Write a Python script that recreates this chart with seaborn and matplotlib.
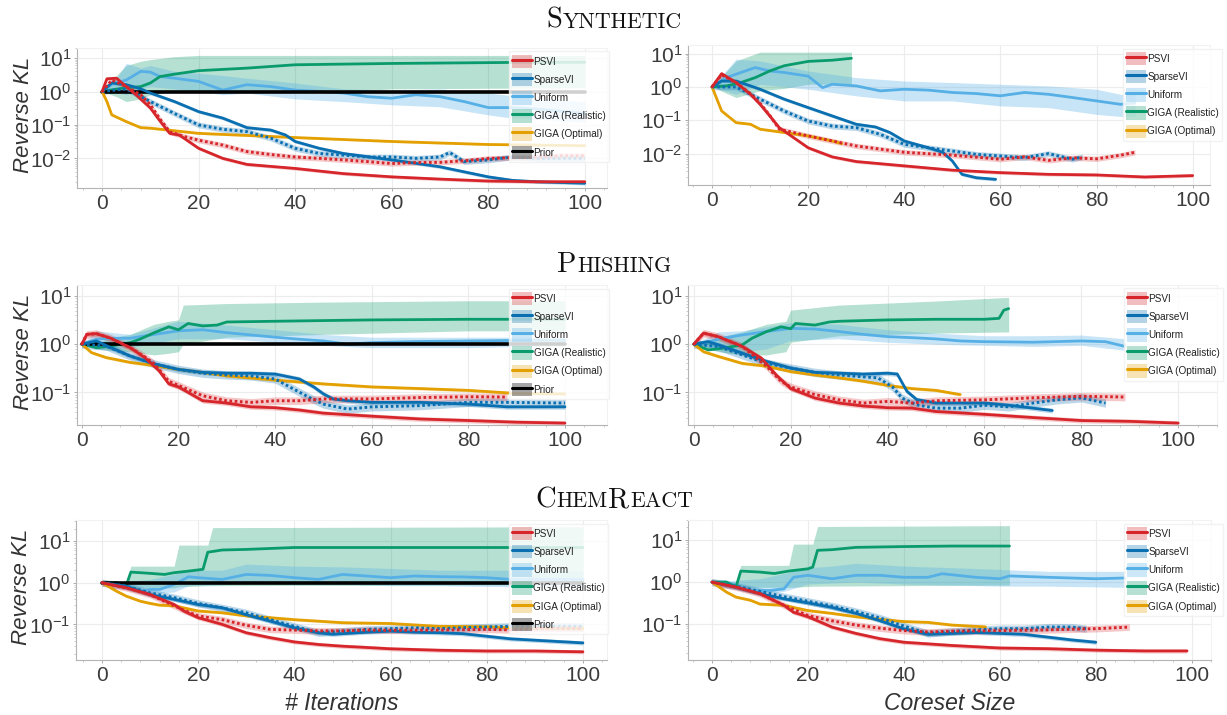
import numpy as np
import matplotlib
matplotlib.use("Agg")
import matplotlib.pyplot as plt
import seaborn as sns
from matplotlib.patches import Patch
from matplotlib.lines import Line2D
from matplotlib.ticker import LogLocator, AutoMinorLocator, NullFormatter, FixedLocator

# ======================= DATA =======================
METHODS = ["PSVI", "SparseVI", "Uniform", "GIGA (Realistic)", "GIGA (Optimal)", "Prior"]
ROW_TITLES = [("S", "YNTHETIC"), ("P", "HISHING"), ("C", "HEM", "R", "EACT")]
XLABELS = ["# Iterations", "Coreset Size"]
YLABEL = "Reverse KL"
X_TICKS = [0, 20, 40, 60, 80, 100]

# ---- Synthetic / iterations ----
SYN_IT_PSVI_X = [0, 1, 3, 5, 7, 10, 12, 14, 16, 20, 25, 30, 40, 50, 60, 70, 80, 90, 100]
SYN_IT_PSVI_Y = [1, 2.4, 2.5, 1.4, 0.8, 0.32, 0.13, 0.056, 0.05, 0.02, 0.01, 0.0066, 0.005, 0.0035, 0.0028, 0.0024, 0.0021, 0.002, 0.002]
SYN_IT_PSVID_X = [0, 2, 5, 8, 10, 12, 14, 17, 20, 25, 30, 35, 40, 45, 50, 55, 60, 65, 70, 75, 80, 85, 90, 95, 100]
SYN_IT_PSVID_Y = [1, 2.2, 1.4, 0.8, 0.4, 0.15, 0.063, 0.045, 0.035, 0.025, 0.016, 0.013, 0.011, 0.01, 0.009, 0.008, 0.007, 0.0075, 0.0076, 0.0085, 0.01, 0.0105, 0.011, 0.012, 0.012]
SYN_IT_SVI_X = [0, 2, 5, 8, 10, 15, 20, 25, 30, 35, 38, 40, 45, 50, 60, 70, 80, 85, 90, 100]
SYN_IT_SVI_Y = [1, 1.8, 1.6, 1.2, 0.9, 0.5, 0.25, 0.16, 0.083, 0.07, 0.05, 0.032, 0.02, 0.014, 0.009, 0.0056, 0.0028, 0.0022, 0.002, 0.0018]
SYN_IT_SVID_X = [0, 5, 10, 15, 20, 25, 30, 35, 40, 45, 50, 55, 60, 65, 70, 72, 75, 80, 85, 90, 100]
SYN_IT_SVID_Y = [1, 1.2, 0.5, 0.22, 0.1, 0.074, 0.063, 0.04, 0.02, 0.014, 0.0125, 0.011, 0.011, 0.01, 0.011, 0.015, 0.008, 0.009, 0.011, 0.01, 0.01]
SYN_IT_UNI_X = [0, 2, 5, 8, 10, 12, 15, 20, 25, 30, 35, 40, 45, 50, 55, 60, 65, 70, 75, 80, 85, 90, 100]
SYN_IT_UNI_Y = [1, 1.66, 2.2, 4, 3.8, 2.8, 2.5, 2, 1.1, 1.6, 1.4, 1.1, 1.0, 0.9, 0.7, 0.63, 0.8, 0.7, 0.5, 0.33, 0.33, 0.3, 0.22]
SYN_IT_UNIB_X = [0, 3, 5, 8, 10, 15, 20, 25, 30, 40, 50, 60, 70, 80, 85, 90, 100]
SYN_IT_UNIB_HI = [1, 2.5, 7, 5, 6, 4, 3.5, 3, 2.5, 1.8, 1.2, 1.1, 1.2, 0.9, 0.75, 0.6, 0.5]
SYN_IT_UNIB_LO = [1, 1.0, 0.8, 1.2, 1.4, 1.2, 1.0, 0.8, 0.9, 0.6, 0.5, 0.4, 0.35, 0.2, 0.16, 0.15, 0.12]
SYN_IT_GR_X = [0, 5, 8, 10, 12, 15, 20, 30, 40, 60, 85, 100]
SYN_IT_GR_Y = [1, 1.3, 1.4, 1.8, 2.8, 3.3, 4.2, 5, 6.3, 6.9, 7.4, 7.5]
SYN_IT_GRB_X = [0, 3, 5, 8, 10, 15, 20, 50, 60, 100]
SYN_IT_GRB_HI = [1, 3, 6, 8, 9, 11, 12, 12, 12, 12]
SYN_IT_GRB_LO = [1, 0.7, 0.5, 0.6, 0.8, 1.0, 1.0, 1.0, 1.2, 1.3]
SYN_IT_GO_X = [0, 1, 2, 5, 8, 10, 20, 40, 60, 80, 100]
SYN_IT_GO_Y = [1, 0.5, 0.2, 0.126, 0.083, 0.08, 0.056, 0.042, 0.032, 0.026, 0.024]

# ---- Synthetic / coreset size ----
SYN_CS_PSVI_X = [0, 2, 5, 8, 10, 12, 14, 17, 20, 25, 30, 40, 50, 60, 70, 80, 90, 100]
SYN_CS_PSVI_Y = [1, 2.5, 1.35, 0.6, 0.3, 0.135, 0.06, 0.03, 0.015, 0.008, 0.0058, 0.0043, 0.0032, 0.0027, 0.0024, 0.0023, 0.002, 0.0022]
SYN_CS_PSVID_X = [0, 2, 5, 8, 10, 12, 14, 20, 25, 30, 40, 50, 60, 65, 70, 75, 80, 85, 88]
SYN_CS_PSVID_Y = [1, 2.3, 1.35, 0.62, 0.32, 0.14, 0.054, 0.034, 0.024, 0.017, 0.011, 0.009, 0.0068, 0.008, 0.0063, 0.0075, 0.007, 0.009, 0.011]
SYN_CS_SVI_X = [0, 2, 5, 8, 10, 15, 20, 25, 30, 34, 37, 40, 45, 48, 50, 52, 55, 59]
SYN_CS_SVI_Y = [1, 1.5, 1.5, 1.07, 0.85, 0.43, 0.24, 0.135, 0.076, 0.063, 0.043, 0.024, 0.015, 0.011, 0.006, 0.0024, 0.0019, 0.0017]
SYN_CS_SVID_X = [0, 5, 10, 15, 20, 25, 30, 35, 40, 45, 50, 55, 60, 65, 70, 75, 77]
SYN_CS_SVID_Y = [1, 1.0, 0.43, 0.19, 0.095, 0.067, 0.06, 0.038, 0.019, 0.015, 0.012, 0.0095, 0.0085, 0.0076, 0.01, 0.0068, 0.008]
SYN_CS_UNI_X = [0, 3, 6, 9, 12, 15, 20, 23, 25, 30, 35, 40, 45, 50, 55, 60, 65, 70, 75, 80, 85, 88]
SYN_CS_UNI_Y = [1, 1.9, 2.7, 3.8, 3, 2.7, 2.1, 0.95, 1.2, 1.07, 0.76, 0.85, 0.8, 0.68, 0.63, 0.54, 0.68, 0.6, 0.48, 0.38, 0.3, 0.33]
SYN_CS_UNIB_X = [0, 5, 10, 20, 30, 40, 50, 60, 70, 80, 85, 88]
SYN_CS_UNIB_HI = [1, 6.8, 6, 3, 1.9, 1.5, 1.35, 1.2, 1.07, 0.85, 0.6, 0.6]
SYN_CS_UNIB_LO = [1, 0.6, 1.2, 0.85, 0.54, 0.38, 0.38, 0.27, 0.24, 0.15, 0.13, 0.13]
SYN_CS_GR_X = [0, 3, 6, 9, 12, 15, 20, 25, 29]
SYN_CS_GR_Y = [1, 1.07, 1.35, 1.9, 3, 4.3, 5.8, 6.3, 7.2]
SYN_CS_GRB_X = [0, 5, 10, 15, 20, 29]
SYN_CS_GRB_HI = [1, 6, 11, 11, 11, 11]
SYN_CS_GRB_LO = [1, 0.48, 0.76, 0.9, 1.2, 1.2]
SYN_CS_GO_X = [0, 2, 5, 8, 10, 15, 20, 25, 27]
SYN_CS_GO_Y = [1, 0.19, 0.085, 0.076, 0.054, 0.043, 0.034, 0.024, 0.02]

# ---- Phishing / iterations ----
PHI_IT_PSVI_X = [0, 1, 3, 6, 10, 13, 16, 18, 20, 25, 30, 35, 40, 45, 50, 60, 70, 80, 90, 100]
PHI_IT_PSVI_Y = [1, 1.6, 1.66, 1.33, 0.85, 0.53, 0.28, 0.15, 0.13, 0.067, 0.06, 0.05, 0.048, 0.043, 0.037, 0.032, 0.028, 0.026, 0.024, 0.023]
PHI_IT_PSVID_X = [0, 1, 3, 6, 10, 13, 15, 18, 20, 25, 30, 35, 40, 45, 50, 60, 70, 80, 88]
PHI_IT_PSVID_Y = [1, 1.6, 1.66, 1.33, 0.85, 0.55, 0.39, 0.17, 0.14, 0.085, 0.067, 0.062, 0.067, 0.067, 0.073, 0.073, 0.078, 0.081, 0.08]
PHI_IT_SVI_X = [0, 3, 6, 10, 15, 20, 25, 30, 35, 40, 45, 48, 50, 52, 55, 60, 70, 80, 88, 100]
PHI_IT_SVI_Y = [1, 1.17, 0.85, 0.57, 0.39, 0.3, 0.26, 0.25, 0.25, 0.24, 0.19, 0.13, 0.093, 0.073, 0.067, 0.062, 0.062, 0.057, 0.05, 0.05]
PHI_IT_SVID_X = [0, 5, 10, 15, 20, 25, 30, 35, 40, 43, 47, 50, 55, 60, 70, 80, 88, 100]
PHI_IT_SVID_Y = [1, 0.92, 0.57, 0.39, 0.3, 0.25, 0.23, 0.22, 0.19, 0.13, 0.079, 0.057, 0.045, 0.05, 0.053, 0.062, 0.062, 0.06]
PHI_IT_UNI_X = [0, 3, 6, 10, 15, 20, 25, 30, 35, 40, 45, 50, 55, 60, 70, 80, 90, 100]
PHI_IT_UNI_Y = [1, 1.27, 1.33, 1.33, 1.6, 1.9, 2.0, 1.74, 1.56, 1.4, 1.27, 1.17, 1.0, 1.08, 1.14, 1.17, 1.2, 1.2]
PHI_IT_UNIB_X = [0, 3, 10, 20, 30, 40, 50, 60, 80, 90, 100]
PHI_IT_UNIB_HI = [1, 1.9, 1.6, 3, 2.5, 2, 1.6, 1.4, 1.4, 1.4, 1.4]
PHI_IT_UNIB_LO = [1, 0.8, 0.85, 1.3, 1.3, 1.1, 0.95, 0.85, 0.85, 0.9, 0.9]
PHI_IT_GR_X = [0, 3, 6, 10, 12, 15, 18, 20, 22, 25, 28, 30, 40, 50, 60, 80, 100]
PHI_IT_GR_Y = [1, 0.85, 0.92, 1.08, 1.27, 1.74, 2.3, 2.0, 2.7, 2.4, 2.5, 2.9, 3.0, 3.1, 3.2, 3.3, 3.3]
PHI_IT_GRB_X = [0, 3, 5, 10, 15, 18, 20, 21, 30, 50, 80, 100]
PHI_IT_GRB_HI = [1, 1.0, 1.3, 1.6, 2.6, 3.0, 3.2, 6.5, 7, 7.5, 8, 8]
PHI_IT_GRB_LO = [1, 0.8, 0.75, 0.7, 0.6, 0.65, 0.7, 1.0, 1.4, 1.6, 1.9, 1.9]
PHI_IT_GO_X = [0, 2, 5, 10, 15, 20, 25, 30, 40, 50, 60, 70, 80, 90, 100]
PHI_IT_GO_Y = [1, 0.67, 0.53, 0.42, 0.36, 0.3, 0.26, 0.22, 0.18, 0.15, 0.13, 0.12, 0.11, 0.095, 0.093]

# ---- Phishing / coreset size ----
PHI_CS_PSVI_X = [0, 2, 5, 10, 14, 17, 20, 25, 30, 35, 40, 45, 50, 60, 70, 80, 90, 100]
PHI_CS_PSVI_Y = [1, 1.7, 1.44, 0.9, 0.51, 0.23, 0.12, 0.076, 0.06, 0.052, 0.048, 0.047, 0.04, 0.035, 0.03, 0.026, 0.025, 0.023]
PHI_CS_PSVID_X = [0, 2, 5, 10, 15, 18, 20, 25, 30, 35, 40, 45, 50, 60, 70, 80, 89]
PHI_CS_PSVID_Y = [1, 1.7, 1.44, 0.9, 0.35, 0.17, 0.13, 0.09, 0.07, 0.06, 0.065, 0.06, 0.067, 0.07, 0.077, 0.083, 0.08]
PHI_CS_SVI_X = [0, 3, 6, 10, 15, 20, 25, 30, 35, 40, 42, 44, 46, 50, 55, 60, 65, 70, 74]
PHI_CS_SVI_Y = [1, 1.13, 0.9, 0.65, 0.44, 0.32, 0.26, 0.25, 0.24, 0.25, 0.24, 0.105, 0.071, 0.06, 0.06, 0.06, 0.054, 0.047, 0.042]
PHI_CS_SVID_X = [0, 5, 10, 15, 20, 25, 30, 35, 38, 41, 43, 46, 50, 55, 60, 65, 70, 75, 80, 85]
PHI_CS_SVID_Y = [1, 0.9, 0.6, 0.4, 0.32, 0.26, 0.23, 0.21, 0.2, 0.13, 0.076, 0.055, 0.047, 0.047, 0.054, 0.05, 0.06, 0.07, 0.077, 0.06]
PHI_CS_UNI_X = [0, 3, 6, 10, 15, 20, 25, 30, 35, 40, 45, 50, 55, 60, 70, 80, 85, 89]
PHI_CS_UNI_Y = [1, 1.13, 1.33, 1.56, 1.83, 2.14, 2.07, 1.83, 1.6, 1.44, 1.37, 1.29, 1.17, 1.13, 1.1, 1.17, 1.13, 0.9]
PHI_CS_UNIB_X = [0, 5, 10, 15, 20, 30, 40, 50, 60, 70, 80, 89]
PHI_CS_UNIB_HI = [1, 1.8, 1.9, 2.3, 2.8, 2.6, 2.0, 1.7, 1.5, 1.5, 1.55, 1.3]
PHI_CS_UNIB_LO = [1, 0.8, 0.7, 0.8, 1.2, 1.3, 1.1, 1.0, 0.95, 0.9, 0.95, 0.75]
PHI_CS_GR_X = [0, 3, 6, 10, 12, 15, 18, 20, 21, 25, 28, 30, 40, 50, 60, 63, 64, 65]
PHI_CS_GR_Y = [1, 0.76, 0.83, 0.97, 1.33, 1.83, 2.3, 2.1, 2.7, 2.5, 2.9, 3.0, 3.2, 3.3, 3.3, 3.45, 5.1, 5.5]
PHI_CS_GRB_X = [0, 5, 10, 15, 19, 20, 30, 50, 64, 65]
PHI_CS_GRB_HI = [1, 1.4, 1.8, 2.6, 3.0, 5.1, 6.5, 7.9, 9.3, 9.3]
PHI_CS_GRB_LO = [1, 0.7, 0.6, 0.6, 0.7, 1.1, 1.5, 1.7, 1.8, 1.8]
PHI_CS_GO_X = [0, 2, 5, 10, 15, 20, 25, 30, 35, 40, 45, 50, 55]
PHI_CS_GO_Y = [1, 0.7, 0.56, 0.4, 0.35, 0.27, 0.23, 0.2, 0.17, 0.14, 0.12, 0.11, 0.09]

# ---- ChemReact / iterations ----
CHE_IT_PSVI_X = [0, 5, 10, 15, 17, 20, 25, 30, 35, 40, 45, 50, 55, 60, 70, 80, 90, 100]
CHE_IT_PSVI_Y = [1, 0.76, 0.52, 0.3, 0.21, 0.145, 0.1, 0.063, 0.048, 0.038, 0.033, 0.03, 0.028, 0.026, 0.024, 0.023, 0.023, 0.022]
CHE_IT_PSVID_X = [0, 5, 10, 15, 17, 20, 25, 30, 35, 40, 45, 50, 55, 60, 70, 80, 85, 90, 100]
CHE_IT_PSVID_Y = [1, 0.76, 0.52, 0.28, 0.22, 0.16, 0.13, 0.095, 0.076, 0.073, 0.07, 0.07, 0.073, 0.072, 0.073, 0.076, 0.074, 0.08, 0.08]
CHE_IT_SVI_X = [0, 5, 10, 15, 20, 25, 30, 35, 40, 45, 48, 50, 55, 60, 65, 70, 75, 80, 85, 100]
CHE_IT_SVI_Y = [1, 0.83, 0.52, 0.4, 0.3, 0.25, 0.17, 0.12, 0.083, 0.063, 0.058, 0.06, 0.065, 0.069, 0.065, 0.063, 0.06, 0.052, 0.045, 0.036]
CHE_IT_SVID_X = [0, 5, 10, 15, 20, 25, 30, 35, 40, 45, 50, 55, 60, 65, 70, 75, 80, 85, 100]
CHE_IT_SVID_Y = [1, 0.83, 0.57, 0.44, 0.32, 0.25, 0.19, 0.13, 0.09, 0.063, 0.069, 0.076, 0.079, 0.083, 0.079, 0.083, 0.087, 0.09, 0.09]
CHE_IT_UNI_X = [0, 3, 5, 8, 10, 12, 15, 18, 20, 25, 30, 35, 40, 45, 50, 55, 60, 65, 70, 75, 80, 85, 100]
CHE_IT_UNI_Y = [1, 1, 0.86, 0.63, 0.69, 0.69, 0.91, 1.39, 1.32, 1.2, 1.58, 1.5, 1.32, 1.2, 1.58, 1.45, 1.32, 1.45, 1.4, 1.38, 1.32, 1.2, 1.2]
CHE_IT_UNIB_X = [0, 5, 10, 15, 18, 25, 30, 40, 50, 60, 70, 85, 100]
CHE_IT_UNIB_HI = [1, 1.1, 1.2, 1.6, 2.0, 2.0, 2.8, 2.5, 2.4, 2.2, 2.0, 2.0, 1.9]
CHE_IT_UNIB_LO = [1, 0.7, 0.55, 0.6, 0.85, 0.9, 1.0, 0.9, 0.9, 0.85, 0.85, 0.8, 0.8]
CHE_IT_GR_X = [0, 3, 5, 6, 10, 13, 15, 18, 21, 22, 25, 30, 40, 60, 85, 100]
CHE_IT_GR_Y = [1, 1, 0.83, 1.8, 1.68, 1.58, 1.74, 1.9, 2.1, 5.4, 6.1, 6.3, 7.0, 7.0, 7.0, 7.0]
CHE_IT_GRB_X = [0, 5, 6, 15, 16, 22, 23, 100]
CHE_IT_GRB_HI = [1, 1.0, 2.5, 2.5, 8, 8, 21, 22]
CHE_IT_GRB_LO = [1, 0.8, 0.75, 0.75, 0.8, 0.85, 0.85, 0.9]
CHE_IT_GO_X = [0, 3, 5, 8, 10, 12, 15, 20, 25, 30, 35, 40, 50, 60, 70, 80, 85, 100]
CHE_IT_GO_Y = [1, 0.63, 0.48, 0.36, 0.32, 0.29, 0.28, 0.21, 0.19, 0.16, 0.145, 0.13, 0.11, 0.105, 0.09, 0.088, 0.083, 0.08]

# ---- ChemReact / coreset size ----
CHE_CS_PSVI_X = [0, 5, 10, 15, 17, 20, 25, 30, 35, 40, 50, 60, 70, 80, 90, 99]
CHE_CS_PSVI_Y = [1, 0.76, 0.53, 0.28, 0.19, 0.15, 0.085, 0.06, 0.045, 0.037, 0.031, 0.027, 0.026, 0.024, 0.023, 0.023]
CHE_CS_PSVID_X = [0, 5, 10, 15, 20, 25, 30, 35, 40, 45, 50, 60, 70, 80, 87]
CHE_CS_PSVID_Y = [1, 0.76, 0.53, 0.28, 0.16, 0.12, 0.095, 0.08, 0.07, 0.065, 0.068, 0.07, 0.073, 0.078, 0.085]
CHE_CS_SVI_X = [0, 5, 10, 15, 20, 25, 30, 35, 40, 45, 50, 55, 60, 65, 70, 75, 80]
CHE_CS_SVI_Y = [1, 0.76, 0.53, 0.4, 0.32, 0.25, 0.18, 0.12, 0.077, 0.057, 0.06, 0.063, 0.06, 0.057, 0.049, 0.042, 0.037]
CHE_CS_SVID_X = [0, 5, 10, 15, 20, 25, 30, 35, 40, 45, 50, 55, 60, 65, 70, 75, 78]
CHE_CS_SVID_Y = [1, 0.8, 0.6, 0.45, 0.35, 0.27, 0.2, 0.14, 0.09, 0.06, 0.067, 0.073, 0.078, 0.078, 0.085, 0.085, 0.078]
CHE_CS_UNI_X = [0, 3, 5, 8, 12, 15, 17, 20, 25, 30, 35, 40, 45, 48, 55, 60, 62, 70, 80, 86]
CHE_CS_UNI_Y = [1, 1, 0.83, 0.63, 0.63, 0.69, 1.3, 1.45, 1.2, 1.45, 1.45, 1.3, 1.3, 1.58, 1.3, 1.2, 1.4, 1.3, 1.2, 1.25]
CHE_CS_UNIB_X = [0, 5, 10, 15, 20, 25, 30, 40, 50, 60, 70, 86]
CHE_CS_UNIB_HI = [1, 1.1, 1.2, 1.6, 2.2, 2.4, 2.8, 2.4, 2.2, 2.0, 1.8, 1.8]
CHE_CS_UNIB_LO = [1, 0.7, 0.55, 0.6, 0.9, 0.95, 1.0, 0.9, 0.85, 0.8, 0.8, 0.75]
CHE_CS_GR_X = [0, 3, 5, 6, 10, 13, 16, 20, 21, 22, 25, 30, 40, 50, 62]
CHE_CS_GR_Y = [1, 1, 0.76, 1.83, 1.73, 1.6, 1.83, 2.07, 2.27, 5.7, 5.9, 6.7, 7.0, 7.2, 7.2]
CHE_CS_GRB_X = [0, 5, 6, 16, 17, 21, 22, 62]
CHE_CS_GRB_HI = [1, 1.0, 2.5, 2.5, 8, 8, 21, 22]
CHE_CS_GRB_LO = [1, 0.8, 0.75, 0.75, 0.75, 0.8, 0.8, 0.85]
CHE_CS_GO_X = [0, 3, 5, 8, 10, 15, 20, 25, 30, 35, 40, 45, 50, 57]
CHE_CS_GO_Y = [1, 0.58, 0.44, 0.37, 0.3, 0.28, 0.21, 0.18, 0.15, 0.13, 0.115, 0.11, 0.095, 0.086]

PRIOR_X = [0, 100]
PRIOR_Y = [1, 1]

# ======================= STYLE =======================
C_PSVI = "#d7262b"
C_SVI = "#0a6fb0"
C_UNI = "#56b0e6"
C_GR = "#0a9b6c"
C_GO = "#e3a000"
C_PRIOR = "#000000"
TICK_COLOR = "#3c3c3c"
BAND_F = {"psvi": 1.12, "psvid": 1.2, "svi": 1.12, "svid": 1.22, "go": 1.07}

sns.set_theme(style="whitegrid")
plt.rcParams["font.family"] = ["Liberation Sans", "DejaVu Sans"]
plt.rcParams["mathtext.fontset"] = "custom"
plt.rcParams["mathtext.rm"] = "Liberation Sans"
plt.rcParams["mathtext.it"] = "Liberation Sans:italic"
plt.rcParams["mathtext.bf"] = "Liberation Sans:bold"

W, H = 1227, 715
fig = plt.figure(figsize=(W / 100, H / 100), dpi=100)
fig.patch.set_facecolor("white")


def px_axes(l, t, r, b):
    return fig.add_axes([l / W, 1 - b / H, (r - l) / W, (b - t) / H])


def band(ax, x, lo, hi, color, alpha, z=1):
    ax.fill_between(np.asarray(x, float), np.asarray(lo, float), np.asarray(hi, float),
                    color=color, alpha=alpha, linewidth=0, zorder=z)


def line(ax, x, y, color, ls="-", lw=2.0, z=3):
    sns.lineplot(x=np.asarray(x, float), y=np.asarray(y, float), ax=ax, color=color,
                 linewidth=lw, linestyle=ls, zorder=z, legend=False, errorbar=None)


DOT = (0, (0.9, 0.9))


def panel(ax, d, prior, xlim, ylim, leg_x):
    ax.set_yscale("log")
    band(ax, d["grb_x"], d["grb_lo"], d["grb_hi"], C_GR, 0.30, 1)
    band(ax, d["unib_x"], d["unib_lo"], d["unib_hi"], C_UNI, 0.33, 1.2)
    for key, col, a in (("go", C_GO, 0.3), ("svid", C_SVI, 0.28), ("svi", C_SVI, 0.28),
                        ("psvid", C_PSVI, 0.25), ("psvi", C_PSVI, 0.25)):
        y = np.asarray(d[key + "_y"], float)
        band(ax, d[key + "_x"], y / BAND_F[key], y * BAND_F[key], col, a, 1.5)
    line(ax, d["uni_x"], d["uni_y"], C_UNI, z=3)
    line(ax, d["gr_x"], d["gr_y"], C_GR, z=3.1)
    if prior:
        line(ax, PRIOR_X, PRIOR_Y, C_PRIOR, lw=2.6, z=3.2)
    line(ax, d["go_x"], d["go_y"], C_GO, z=3.3)
    line(ax, d["svid_x"], d["svid_y"], C_SVI, ls=DOT, lw=2.1, z=3.4)
    line(ax, d["svi_x"], d["svi_y"], C_SVI, z=3.5)
    line(ax, d["psvid_x"], d["psvid_y"], C_PSVI, ls=DOT, lw=2.1, z=3.6)
    line(ax, d["psvi_x"], d["psvi_y"], C_PSVI, z=3.7)

    ax.set_xlim(*xlim)
    ax.set_ylim(*ylim)
    ax.set_xlabel("")
    ax.set_ylabel("")
    ax.xaxis.set_major_locator(FixedLocator(X_TICKS))
    ax.xaxis.set_minor_locator(AutoMinorLocator(5))
    ax.yaxis.set_major_locator(LogLocator(base=10, numticks=10))
    ax.yaxis.set_minor_locator(LogLocator(base=10, subs=np.arange(2, 10), numticks=10))
    ax.yaxis.set_minor_formatter(NullFormatter())
    ax.tick_params(axis="both", which="major", labelsize=15, labelcolor=TICK_COLOR,
                   length=2.5, width=0.6, color="#a0a0a0", pad=1.5, left=True, bottom=True)
    ax.tick_params(axis="both", which="minor", length=1.5, width=0.5, color="#b8b8b8",
                   left=True, bottom=True)
    ax.grid(True, which="major", color="#ececec", linewidth=0.8)
    ax.grid(False, which="minor")
    ax.set_facecolor("white")
    for s in ("left", "bottom"):
        ax.spines[s].set_color("#b4b4b4")
        ax.spines[s].set_linewidth(0.8)
    for s in ("top", "right"):
        ax.spines[s].set_color("#f2f2f2")
        ax.spines[s].set_linewidth(0.8)

    cols = [C_PSVI, C_SVI, C_UNI, C_GR, C_GO, C_PRIOR]
    n = 6 if prior else 5
    handles = []
    for c in cols[:n]:
        handles.append((Patch(facecolor=c, alpha=0.3 if c != C_PRIOR else 0.35, edgecolor="none"),
                        Line2D([], [], color=c, linewidth=2.2)))
    leg = ax.legend(handles, METHODS[:n], loc="upper left", bbox_to_anchor=(leg_x, 0.975),
                    fontsize=7.2, handlelength=2.0, handleheight=1.7, labelspacing=0.47,
                    handletextpad=0.14, borderpad=0.32, borderaxespad=0.0, frameon=True,
                    framealpha=0.82, edgecolor="#f0f0f0", fancybox=False, facecolor="white")
    leg.set_zorder(10)
    for t in leg.get_texts():
        t.set_color("#222222")


def bundle(prefix):
    g = globals()
    names = {"psvi": "PSVI", "psvid": "PSVID", "svi": "SVI", "svid": "SVID",
             "uni": "UNI", "gr": "GR", "go": "GO"}
    d = {}
    for k, nm in names.items():
        d[k + "_x"] = g[f"{prefix}_{nm}_X"]
        d[k + "_y"] = g[f"{prefix}_{nm}_Y"]
    for k, nm in (("unib", "UNIB"), ("grb", "GRB")):
        d[k + "_x"] = g[f"{prefix}_{nm}_X"]
        d[k + "_lo"] = g[f"{prefix}_{nm}_LO"]
        d[k + "_hi"] = g[f"{prefix}_{nm}_HI"]
    return d


layout = [
    ("SYN_IT", (77, 48, 607, 188), True, (-5.2, 104.6), (1.3e-3, 20), 0.815),
    ("SYN_CS", (688, 45, 1210, 185), False, (-5.0, 103.6), (1.15e-3, 18), 0.833),
    ("PHI_IT", (77, 285, 607, 425), True, (-1.0, 108.7), (0.021, 17), 0.815),
    ("PHI_CS", (688, 285, 1217, 425), False, (-1.2, 108.0), (0.021, 17), 0.824),
    ("CHE_IT", (76, 520, 607, 660), True, (-5.4, 105.0), (0.014, 32), 0.815),
    ("CHE_CS", (688, 520, 1211, 660), False, (-5.0, 104.0), (0.014, 30), 0.833),
]

axes = []
for prefix, rect, prior, xl, yl, lx in layout:
    ax = px_axes(*rect)
    panel(ax, bundle(prefix), prior, xl, yl, lx)
    axes.append(ax)

for i in (0, 2, 4):
    ax = axes[i]
    ax.set_ylabel(YLABEL, fontsize=16, fontstyle="italic", color="#333333")
    ax.yaxis.set_label_coords(-0.082, 0.52)

axes[4].set_xlabel(XLABELS[0], fontsize=16.5, fontstyle="italic", color="#333333")
axes[4].xaxis.set_label_coords(0.5, -0.23)
axes[5].set_xlabel(XLABELS[1], fontsize=16.5, fontstyle="italic", color="#333333")
axes[5].xaxis.set_label_coords(0.5, -0.23)

# small-caps row titles, laid out piece by piece on a common baseline
renderer = fig.canvas.get_renderer()


def smallcaps_title(parts, cx, base_y):
    texts, widths = [], []
    for i, p in enumerate(parts):
        big = (i % 2 == 0)
        t = fig.text(0, 0, p, family="cmr10", size=20.5 if big else 15.8, color="#111111",
                     ha="left", va="baseline")
        texts.append(t)
        widths.append(t.get_window_extent(renderer).width)
    gap = 0.8
    total = sum(widths) + gap * (len(parts) - 1)
    x = cx - total / 2
    for t, w in zip(texts, widths):
        t.set_position((x / W, 1 - base_y / H))
        x += w + gap


smallcaps_title(ROW_TITLES[0], 614, 28)
smallcaps_title(ROW_TITLES[1], 614, 272)
smallcaps_title(ROW_TITLES[2], 614, 507)

fig.savefig("out.png", dpi=100, facecolor="white")
